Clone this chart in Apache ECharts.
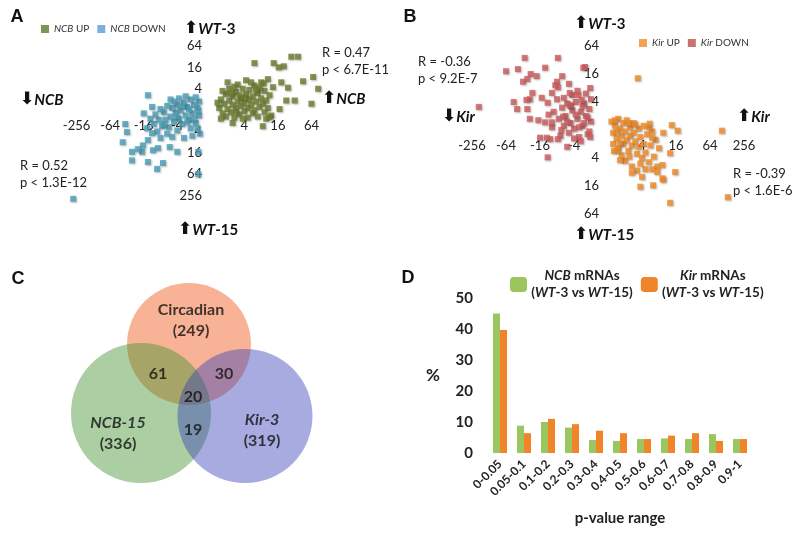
<!DOCTYPE html>
<html>
<head>
<meta charset="utf-8">
<script src="https://cdn.jsdelivr.net/npm/echarts@6/dist/echarts.min.js"></script>
<style>
  html, body { margin: 0; padding: 0; background: #fff; }
  #chart { width: 800px; height: 536px; }
</style>
</head>
<body>
<div id="chart"></div>
<script>
// panel A / B: log2 fold changes (x = mutant, y = WT-3 up / WT-15 down)
const ncbUp = [
  [0.5,0.2],[0.6,1.0],[0.7,-0.3],[0.8,0.6],[0.9,1.5],[0.9,-0.6],[1.0,0.1],[1.1,0.9],[1.1,2.0],[1.2,-0.2],
  [1.3,0.5],[1.3,1.3],[1.4,-0.7],[1.5,0.2],[1.5,1.7],[1.6,0.8],[1.6,2.4],[1.7,-0.4],[1.8,0.4],[1.8,1.1],
  [1.9,2.0],[2.0,-0.1],[2.0,0.7],[2.1,1.5],[2.1,2.8],[2.2,0.2],[2.2,-0.7],[2.3,1.0],[2.3,1.9],[2.4,0.5],
  [2.5,-0.3],[2.5,1.3],[2.6,2.3],[2.6,0.0],[2.7,0.8],[2.8,1.6],[2.8,-0.6],[2.9,0.3],[3.0,1.1],[3.0,2.6],
  [3.1,0.6],[3.2,-0.2],[3.2,1.8],[3.3,0.9],[3.4,2.9],[3.4,0.2],[3.5,1.4],[3.6,-0.5],[0.7,1.8],[1.0,2.6],
  [1.4,2.2],[0.6,-0.8],[1.2,1.6],[1.7,1.4],[2.4,2.6],[1.9,-0.8],[2.9,2.1],[0.4,0.7],[1.5,-0.1],[2.0,1.2],
  [2.7,1.9],[3.3,-0.8],[2.6,4.4],[4.8,5.0],[5.2,5.0],[3.75,4.4],[4.05,4.0],[4.35,4.1],[6.1,3.1],[5.5,2.7],
  [6.4,2.0],[6.0,0.6],[5.0,0.9],[4.5,0.9],[4.2,2.6],[4.6,2.1],[3.1,-1.5],[3.5,-0.65],[4.1,0.1],[1.3,-1.2],
  [3.7,2.15],[3.15,2.5]
];
const ncbDown = [
  [-0.7,0.8],[-0.8,0.2],[-0.7,-0.5],[-0.9,-1.2],[-1.0,0.5],[-1.1,-0.3],[-1.2,1.0],[-1.3,-0.9],[-1.4,0.3],[-1.5,-0.5],
  [-1.6,0.7],[-1.7,-1.3],[-1.8,0.0],[-1.9,-0.8],[-2.0,0.5],[-2.1,-0.2],[-2.2,-1.1],[-2.3,0.2],[-2.4,-0.6],[-2.5,-1.6],
  [-2.6,0.4],[-2.7,-0.9],[-2.8,-0.2],[-2.9,-1.5],[-3.0,0.1],[-3.1,-0.9],[-3.2,-2.0],[-3.3,-0.4],[-3.4,-1.3],[-3.5,0.3],
  [-0.9,1.2],[-1.2,-1.7],[-1.5,1.3],[-2.0,-1.9],[-2.4,1.0],[-1.0,-0.8],[-0.8,-1.7],[-1.3,0.1],[-1.7,0.4],[-2.2,0.8],
  [-2.6,-2.2],[-3.6,-0.8],[-3.8,-1.7],[-4.0,-0.3],[-0.65,-2.2],[-1.1,-2.4],[-1.6,-2.6],[-2.3,-2.5],[-2.8,-1.3],[-3.0,-2.6],
  [-1.9,1.1],[-0.75,0.0],[-1.4,-1.1],[-2.05,-0.55],[-3.75,1.4],[-5.1,-1.3],[-5.25,-3.0],[-5.0,-2.05],[-4.7,-3.9],[-4.7,-4.7],
  [-4.1,-3.9],[-4.05,-3.3],[-3.75,-2.8],[-3.45,-3.75],[-3.75,-4.85],[-3.2,-5.5],[-2.85,-4.95],[-2.0,-3.9],[-0.75,-3.9],[-0.75,-6.0],
  [-8.2,-8.3],[-3.5,-2.15],[-4.35,-3.65],[-3.15,-3.55],[-2.45,-3.45]
];
const kirUp = [
  [0.2,0.6],[0.3,-0.2],[0.3,-1.0],[0.4,0.3],[0.5,-0.6],[0.6,0.8],[0.6,-1.3],[0.7,0.1],[0.8,-0.4],[0.9,0.5],
  [0.9,-1.0],[1.0,-0.1],[1.1,0.7],[1.1,-0.7],[1.2,-1.5],[1.3,0.2],[1.3,-0.4],[1.4,-1.1],[1.5,0.5],[1.5,-0.2],
  [1.6,-0.8],[1.7,-1.7],[1.8,0.1],[1.8,-1.2],[1.9,-0.5],[2.0,-2.0],[2.1,0.3],[2.1,-1.0],[2.2,-1.6],[2.3,-0.3],
  [2.4,-2.3],[2.5,-1.1],[2.6,-0.1],[2.7,-1.9],[2.8,-0.7],[2.9,-2.6],[3.0,-1.3],[1.0,-2.2],[0.8,-1.8],[1.4,-2.6],
  [1.7,-2.9],[2.2,-2.8],[0.4,0.7],[1.2,0.5],[0.5,-0.1],[0.7,-0.9],[1.6,0.4],[2.4,0.2],[1.9,-2.4],[2.6,-2.8],
  [0.35,-1.5],[1.25,-1.9],[1.75,3.7],[6.7,-0.05],[4.1,-0.05],[3.75,0.35],[2.45,0.45],[3.25,-0.2],[2.6,-0.55],[3.65,-1.65],
  [3.2,-2.5],[3.95,-3.0],[2.9,-3.0],[3.2,-3.45],[2.0,-3.35],[1.4,-3.05],[0.7,-2.15],[1.9,-4.05],[2.65,-3.95],[3.65,-5.2],
  [7.05,-4.8],[3.25,-3.55],[0.55,-1.45]
];
const kirDown = [
  [-1.0,2.2],[-1.1,1.5],[-1.0,0.6],[-1.2,-0.3],[-1.3,1.0],[-1.4,1.9],[-1.5,0.3],[-1.6,1.3],[-1.7,-0.5],[-1.8,0.8],
  [-1.9,2.0],[-2.0,0.1],[-2.1,1.4],[-2.2,0.5],[-2.3,-0.2],[-2.4,1.9],[-2.5,1.0],[-2.6,0.3],[-2.7,1.6],[-2.8,-0.4],
  [-2.9,0.8],[-3.0,2.2],[-1.2,0.9],[-1.5,1.7],[-1.7,0.2],[-1.9,1.1],[-2.0,-0.6],[-2.2,1.7],[-2.4,0.6],[-2.6,2.3],
  [-1.1,-0.1],[-1.3,2.6],[-1.8,2.8],[-2.1,2.5],[-1.4,0.5],[-2.75,0.0],[-3.2,1.3],[-3.3,0.2],[-3.5,1.1],[-1.6,-0.8],
  [-2.3,3.3],[-7.6,1.65],[-4.9,5.15],[-2.95,5.15],[-6.0,4.2],[-5.3,4.35],[-4.55,4.0],[-4.2,3.85],[-5.0,3.45],[-4.75,3.65],
  [-2.7,3.85],[-3.0,3.45],[-3.1,3.2],[-3.3,2.65],[-4.45,2.65],[-4.6,2.2],[-4.8,2.15],[-5.55,2.0],[-5.35,1.5],[-4.75,1.5],
  [-3.9,2.3],[-3.55,1.95],[-2.95,3.05],[-2.25,2.65],[-1.75,2.5],[-1.45,4.45],[-4.6,0.8],[-4.1,0.7],[-3.7,0.55],[-3.3,0.55],
  [-2.65,0.95],[-2.25,1.8],[-3.6,-0.55],[-3.4,-0.65],[-2.95,-0.65],[-2.4,-1.2],[-3.55,-1.95],[-3.7,4.45],[-4.0,-0.55],[-1.05,3.0],
  [-1.55,2.15],[-1.05,-0.5],[-1.35,4.5]
];

// panel C: venn
const vennNames = ['Circadian', 'NCB-15', 'Kir-3'];
const vennTotals = [249, 336, 319];
const vennShared = [61, 30, 20, 19]; // circ+ncb, circ+kir, all three, ncb+kir

// panel D: p-value distribution
const pRanges = ['0-0.05','0.05-0.1','0.1-0.2','0.2-0.3','0.3-0.4','0.4-0.5','0.5-0.6','0.6-0.7','0.7-0.8','0.8-0.9','0.9-1'];
const ncbPct = [45, 8.8, 10, 8.2, 4.2, 3.9, 4.5, 4.7, 4.5, 6.1, 4.5];
const kirPct = [39.7, 6.4, 11, 9.3, 7.2, 6.4, 4.5, 5.6, 6.4, 3.9, 4.5];

// venn layout in page pixels (cx, cy, w, h)
const vennCircles = [[189, 344, 124, 122], [141, 413, 140, 140], [245, 416, 135, 134]];
const vennColors = ['rgba(240,82,19,0.55)', 'rgba(64,146,46,0.55)', 'rgba(55,64,182,0.55)'];
const vennNamePos = [[191, 320], [118, 433], [262, 430]];
const vennSharedPos = [[158, 374], [224, 374], [193, 397], [193, 430]];

const FONT = 'Lato';
const chart = echarts.init(document.getElementById('chart'));

function foldLabel(lo, hi, signed) {
  return v => {
    if (v === 0 || v < lo || v > hi) return '';
    const f = Math.pow(2, Math.abs(v));
    return signed && v < 0 ? '-' + f : String(f);
  };
}

// axes cross at the origin: shift them in from the grid edge with a negative offset
function logAxis(gi, min, max, lo, hi, signed, shift) {
  return {
    gridIndex: gi, type: 'value', min: min, max: max, interval: 2,
    offset: shift,
    axisLine: { show: false, onZero: false },
    axisTick: { show: false },
    splitLine: { show: false },
    axisLabel: { formatter: foldLabel(lo, hi, signed), color: '#222', fontSize: 13, fontFamily: FONT, margin: 9 }
  };
}

const pointStyle = color => ({
  color: color, shadowBlur: 2, shadowColor: 'rgba(0,0,0,0.35)', shadowOffsetX: 1, shadowOffsetY: 1
});

function scatter(name, data, gi, color) {
  return {
    name: name, type: 'scatter', xAxisIndex: gi, yAxisIndex: gi,
    symbol: 'rect', symbolSize: 6, data: data, itemStyle: pointStyle(color)
  };
}

const italicRich = {
  i: { fontStyle: 'italic', fontSize: 10, fontFamily: FONT, color: '#333' }
};

const dRich = {
  b: { fontWeight: 'bold', fontSize: 13.5, fontFamily: FONT, color: '#222', align: 'center', lineHeight: 17 },
  bi: { fontWeight: 'bold', fontStyle: 'italic', fontSize: 13.5, fontFamily: FONT, color: '#222', align: 'center', lineHeight: 17 }
};

const annRich = {
  a: { fontFamily: 'DejaVu Sans', fontWeight: 'bold', fontSize: 17, fill: '#111', color: '#111' },
  i: { fontFamily: FONT, fontWeight: 'bold', fontStyle: 'italic', fontSize: 15, fill: '#111', color: '#111' },
  b: { fontFamily: FONT, fontWeight: 'bold', fontSize: 15, fill: '#111', color: '#111' }
};

function arrowText(x, y, up, name, suffix) {
  return {
    type: 'text', x: x, y: y, silent: true,
    style: {
      text: '{a|' + (up ? '⬆' : '⬇') + '}{i|' + name + '}' + (suffix ? '{b|' + suffix + '}' : ''),
      rich: annRich, verticalAlign: 'middle', textVerticalAlign: 'middle'
    }
  };
}

function statText(x, y, lines) {
  return {
    type: 'text', x: x, y: y, silent: true,
    style: { text: lines.join('\n'), font: '13px ' + FONT, fill: '#222', lineHeight: 17 }
  };
}

function letter(x, y, t) {
  return {
    type: 'text', x: x, y: y, silent: true,
    style: { text: t, font: 'bold 18px "Liberation Sans"', fill: '#111', align: 'center', verticalAlign: 'middle', textAlign: 'center', textVerticalAlign: 'middle' }
  };
}

const vennBold = { fontFamily: FONT, fontWeight: 'bold', fontSize: 16, color: '#111', lineHeight: 21 };

const option = {
  animation: false,
  backgroundColor: '#fff',
  textStyle: { fontFamily: FONT },
  grid: [
    { left: 43, top: 46, width: 302, height: 171 },
    { left: 472, top: 46, width: 272, height: 168 },
    { left: 0, top: 260, width: 400, height: 276 },
    { left: 488, top: 298, width: 264, height: 155 }
  ],
  xAxis: [
    logAxis(0, -10, 8, -8, 6, true, -107),
    logAxis(1, -8, 8, -8, 8, true, -84),
    { gridIndex: 2, type: 'value', min: 0, max: 400, show: false },
    {
      gridIndex: 3, type: 'category', data: pRanges,
      axisLine: { show: false }, axisTick: { show: false },
      axisLabel: { interval: 0, rotate: 45, margin: 9, fontWeight: 'bold', fontSize: 12, color: '#222', fontFamily: FONT },
      name: 'p-value range', nameLocation: 'middle', nameGap: 58,
      nameTextStyle: { fontWeight: 'bold', fontSize: 15, color: '#222', fontFamily: FONT }
    }
  ],
  yAxis: [
    logAxis(0, -10, 6, -8, 6, false, -168),
    logAxis(1, -6, 6, -6, 6, false, -136),
    { gridIndex: 2, type: 'value', min: 260, max: 536, inverse: true, show: false },
    {
      gridIndex: 3, type: 'value', min: 0, max: 50, interval: 10,
      axisLine: { show: false }, axisTick: { show: false }, splitLine: { show: false },
      axisLabel: { fontWeight: 'bold', fontSize: 15, color: '#222', margin: 15, fontFamily: FONT },
      name: '%', nameLocation: 'middle', nameRotate: 0, nameGap: 48,
      nameTextStyle: { fontWeight: 'bold', fontSize: 17, color: '#222', fontFamily: FONT, padding: [0, 0, 30, 0] }
    }
  ],
  legend: [
    {
      data: [
        { name: 'NCB UP', itemStyle: { color: '#5e7b2a' } },
        { name: 'NCB DOWN', itemStyle: { color: '#5b9bd5' } }
      ],
      left: 41, top: 24, padding: 0, itemWidth: 8, itemHeight: 8, itemGap: 8,
      formatter: n => n.replace('NCB', '{i|NCB}'),
      textStyle: { fontSize: 10, color: '#333', fontFamily: FONT, rich: italicRich }
    },
    {
      data: [
        { name: 'Kir UP', itemStyle: { color: '#f08c28' } },
        { name: 'Kir DOWN', itemStyle: { color: '#b9504a' } }
      ],
      left: 639, top: 38, padding: 0, itemWidth: 8, itemHeight: 8, itemGap: 8,
      formatter: n => n.replace('Kir', '{i|Kir}'),
      textStyle: { fontSize: 10, color: '#333', fontFamily: FONT, rich: italicRich }
    },
    {
      data: ['NCB mRNAs', 'Kir mRNAs'],
      left: 510, top: 269, padding: 0, itemWidth: 17, itemHeight: 15, itemGap: 8,
      formatter: n => {
        const g = n.split(' ')[0];
        return '{bi|' + g + '}{b| mRNAs}\n{b|(}{bi|WT}{b|-3 vs }{bi|WT}{b|-15)}';
      },
      textStyle: { width: 100, fontFamily: FONT, rich: dRich }
    }
  ],
  graphic: [
    letter(17, 17, 'A'), letter(410, 17, 'B'), letter(18, 279, 'C'), letter(408, 278, 'D'),
    arrowText(184, 29, true, 'WT', '-3'),
    arrowText(20, 100, false, 'NCB'),
    arrowText(322, 99, true, 'NCB'),
    arrowText(178, 230, true, 'WT', '-15'),
    arrowText(574, 24, true, 'WT', '-3'),
    arrowText(442, 117, false, 'Kir'),
    arrowText(737, 117, true, 'Kir'),
    arrowText(574, 235, true, 'WT', '-15'),
    statText(322, 44, ['R = 0.47', 'p < 6.7E-11']),
    statText(20, 157, ['R = 0.52', 'p < 1.3E-12']),
    statText(418, 53, ['R = -0.36', 'p < 9.2E-7']),
    statText(733, 165, ['R = -0.39', 'p < 1.6E-6'])
  ],
  series: [
    scatter('NCB UP', ncbUp, 0, '#6b7e2e'),
    scatter('NCB DOWN', ncbDown, 0, '#4aa0b9'),
    scatter('Kir UP', kirUp, 1, '#f08c28'),
    scatter('Kir DOWN', kirDown, 1, '#cd5c5c'),
    {
      type: 'scatter', xAxisIndex: 2, yAxisIndex: 2, silent: true, symbol: 'circle',
      data: vennNames.map((n, i) => ({
        name: n,
        value: vennCircles[i].slice(0, 2),
        symbolSize: vennCircles[i].slice(2),
        itemStyle: { color: vennColors[i] }
      }))
    },
    {
      type: 'scatter', xAxisIndex: 2, yAxisIndex: 2, silent: true, symbolSize: 1,
      itemStyle: { color: 'transparent' },
      label: {
        show: true, position: 'inside',
        rich: { b: vennBold, bi: Object.assign({}, vennBold, { fontStyle: 'italic' }) }
      },
      data: vennNames.map((n, i) => ({
        value: vennNamePos[i],
        label: { formatter: '{' + (i === 0 ? 'b' : 'bi') + '|' + n + '}\n{b|(' + vennTotals[i] + ')}' }
      })).concat(vennShared.map((v, i) => ({
        value: vennSharedPos[i],
        label: { formatter: '{b|' + v + '}' }
      })))
    },
    {
      name: 'NCB mRNAs', type: 'bar', xAxisIndex: 3, yAxisIndex: 3, data: ncbPct,
      barWidth: 7, barGap: '0%', itemStyle: { color: '#9bc65f' }
    },
    {
      name: 'Kir mRNAs', type: 'bar', xAxisIndex: 3, yAxisIndex: 3, data: kirPct,
      barWidth: 7, barGap: '0%', itemStyle: { color: '#ef8428' }
    }
  ]
};

chart.setOption(option);
window.addEventListener('resize', () => chart.resize());
</script>
</body>
</html>
